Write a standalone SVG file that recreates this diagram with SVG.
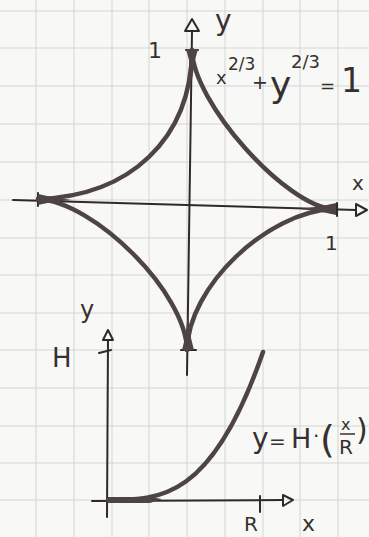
<svg xmlns="http://www.w3.org/2000/svg" width="369" height="537" viewBox="0 0 369 537">
<defs>
<style>
.grid line{stroke:#d4d4d2;stroke-width:1}
.ax{stroke:#2f2a2a;stroke-width:2;fill:none;stroke-linecap:round;stroke-linejoin:round}
.arc{stroke:#4e4444;stroke-width:4.5;fill:none;stroke-linecap:round}
.blob{fill:#4e4444}
.t{font-family:"DejaVu Sans","Liberation Sans",sans-serif;fill:#363030}
</style>
</defs>
<rect width="369" height="537" fill="#f8f8f6"/>
<g id="grid" class="grid">
<line x1="36" y1="0" x2="36" y2="537"/><line x1="74" y1="0" x2="74" y2="537"/><line x1="112" y1="0" x2="112" y2="537"/><line x1="149" y1="0" x2="149" y2="537"/><line x1="187" y1="0" x2="187" y2="537"/><line x1="225" y1="0" x2="225" y2="537"/><line x1="263" y1="0" x2="263" y2="537"/><line x1="300" y1="0" x2="300" y2="537"/><line x1="338" y1="0" x2="338" y2="537"/>
<line x1="0" y1="11" x2="369" y2="11"/><line x1="0" y1="48" x2="369" y2="48"/><line x1="0" y1="86" x2="369" y2="86"/><line x1="0" y1="124" x2="369" y2="124"/><line x1="0" y1="162" x2="369" y2="162"/><line x1="0" y1="200" x2="369" y2="200"/><line x1="0" y1="238" x2="369" y2="238"/><line x1="0" y1="275" x2="369" y2="275"/><line x1="0" y1="313" x2="369" y2="313"/><line x1="0" y1="350" x2="369" y2="350"/><line x1="0" y1="388" x2="369" y2="388"/><line x1="0" y1="426" x2="369" y2="426"/><line x1="0" y1="463" x2="369" y2="463"/><line x1="0" y1="500" x2="369" y2="500"/>
</g>
<g id="astroid-axes">
<path class="ax" d="M192,31 L187,375"/>
<path class="ax" d="M192,19 L185,31 L199,31 Z"/>
<path class="ax" d="M13,200 L356,210"/>
<path class="ax" d="M356,204 L356,216 L367,210 Z"/>
<path class="ax" d="M186,50 L198,50 M38,193 L38,206 M337,203 L337,216 M181,350 L196,350"/>
</g>
<g id="astroid">
<path class="arc" d="M192,50 C193,103 286,206 333,209"/>
<path class="arc" d="M192,50 C191,139 130,196 38,199"/>
<path class="arc" d="M38,199 C95,202 186,293 187,350"/>
<path class="arc" d="M187,350 C188,287 267,212 333,209"/>
<polygon class="blob" points="186,49 198,49 195,60 192,80 189,60"/>
<polygon class="blob" points="182,350 194,350 191,338 188,315 185,338"/>
<polygon class="blob" points="38,194 38,205 52,202 72,200 52,197"/>
<polygon class="blob" points="336,203 336,215 322,212 300,209 322,206"/>
</g>
<g id="astroid-labels" class="t">
<text x="148" y="58" font-size="22">1</text>
<text x="215" y="30" font-size="28">y</text>
<text x="216" y="84" font-size="18">x</text>
<text x="228" y="70" font-size="17">2/3</text>
<text x="252" y="89" font-size="19">+</text>
<text x="270" y="97" font-size="36">y</text>
<text x="291" y="68" font-size="18">2/3</text>
<text x="320" y="92" font-size="18">=</text>
<text x="341" y="92" font-size="33">1</text>
<text x="352" y="190" font-size="20">x</text>
<text x="325" y="250" font-size="20">1</text>
</g>
<g id="plot-axes">
<path class="ax" d="M108,340 L107,517"/>
<path class="ax" d="M108,330 L103,340 L113,340 Z"/>
<path class="ax" d="M92,501 L283,500"/>
<path class="ax" d="M283,495 L283,506 L293,500 Z"/>
<path class="ax" d="M99,353 L111,350 M260,496 L260,512"/>
</g>
<g id="plot-curve">
<path class="arc" d="M108,500 C160,500 212,500 263,352" stroke-width="3.5"/>
<polygon class="blob" points="108,497 150,497 162,499 150,503 108,503"/>
</g>
<g id="plot-labels" class="t">
<text x="80" y="318" font-size="24">y</text>
<text x="52" y="367" font-size="26">H</text>
<text x="252" y="448" font-size="28">y</text>
<text x="269" y="448" font-size="20">=</text>
<text x="291" y="448" font-size="27">H</text>
<text x="313" y="443" font-size="20">·</text>
<text x="320" y="452" font-size="38">(</text>
<text x="341" y="430" font-size="16">x</text>
<line x1="340" y1="434" x2="355" y2="434" stroke="#363030" stroke-width="1.5"/>
<text x="339" y="454" font-size="20">R</text>
<text x="356" y="440" font-size="30">)</text>
<text x="244" y="531" font-size="20">R</text>
<text x="302" y="531" font-size="22">x</text>
</g>
</svg>
